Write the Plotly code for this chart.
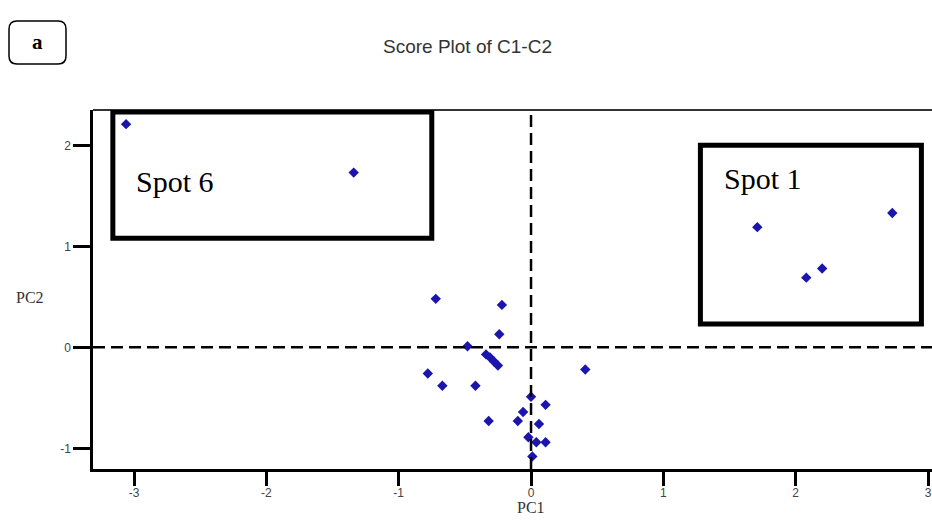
import plotly.graph_objects as go

# ---- data ----
pc1 = [-3.06, -1.34, 1.71, 2.73, 2.20, 2.08,
       -0.72, -0.22, -0.24, -0.48,
       -0.34, -0.31, -0.28, -0.25,
       -0.78, -0.67, -0.42, 0.41,
       0.00, 0.11, -0.06, -0.32, -0.10, 0.06,
       -0.02, 0.04, 0.11, 0.01]
pc2 = [2.21, 1.73, 1.19, 1.33, 0.78, 0.69,
       0.48, 0.42, 0.13, 0.01,
       -0.07, -0.10, -0.14, -0.18,
       -0.26, -0.38, -0.38, -0.22,
       -0.49, -0.57, -0.64, -0.73, -0.73, -0.76,
       -0.89, -0.94, -0.94, -1.08]
x_ticks = [-3, -2, -1, 0, 1, 2, 3]
y_ticks = [-1, 0, 1, 2]
spot_labels = ["Spot 6", "Spot 1"]
spot6_box = [-3.16, -0.75, 1.08, 2.33]   # x0, x1, y0, y1
spot1_box = [1.28, 2.95, 0.23, 2.00]

W, H = 932, 522
L, R, T, B = 93, 0, 110, 53
PW, PH = W - L - R, H - T - B


def px(xp):
    return (xp - L) / PW


def py(yp):
    return (H - B - yp) / PH


fig = go.Figure()
fig.add_trace(go.Scatter(
    x=pc1, y=pc2, mode="markers",
    marker=dict(symbol="diamond", size=8, color="#1b15ad", line=dict(width=0)),
    showlegend=False, hoverinfo="x+y"))

shapes = []
# dashed reference lines
shapes.append(dict(type="line", xref="paper", yref="y", x0=0, x1=1, y0=0, y1=0,
                   line=dict(color="black", width=2.5, dash="12px,6px")))
shapes.append(dict(type="line", xref="x", yref="paper", x0=0, x1=0, y0=0, y1=1,
                   line=dict(color="black", width=2.5, dash="12px,6px")))
# top frame line
shapes.append(dict(type="line", xref="paper", yref="paper", x0=0, x1=1, y0=1, y1=1,
                   line=dict(color="#333333", width=2)))
# spot boxes
for b in (spot6_box, spot1_box):
    shapes.append(dict(type="rect", xref="x", yref="y", x0=b[0], x1=b[1], y0=b[2], y1=b[3],
                       line=dict(color="black", width=5), fillcolor="rgba(0,0,0,0)"))
# rounded "a" box
x0, x1, y0, y1 = px(9), px(66), py(21), py(64)
rx, ry = 8 / PW, 8 / PH
path = (f"M {x0+rx},{y0} L {x1-rx},{y0} Q {x1},{y0} {x1},{y0-ry} "
        f"L {x1},{y1+ry} Q {x1},{y1} {x1-rx},{y1} L {x0+rx},{y1} "
        f"Q {x0},{y1} {x0},{y1+ry} L {x0},{y0-ry} Q {x0},{y0} {x0+rx},{y0} Z")
shapes.append(dict(type="path", xref="paper", yref="paper", path=path,
                   line=dict(color="black", width=1.5)))

annotations = [
    dict(text="Score Plot of C1-C2", xref="paper", yref="paper", x=px(467), y=py(46),
         showarrow=False, xanchor="center", yanchor="middle",
         font=dict(family="Liberation Sans, Arial", size=19, color="#333333")),
    dict(text="<b>a</b>", xref="paper", yref="paper", x=px(37), y=py(42),
         showarrow=False, xanchor="center", yanchor="middle",
         font=dict(family="Liberation Serif, Times New Roman", size=21, color="black")),
    dict(text="PC2", xref="paper", yref="paper", x=px(30), y=py(297),
         showarrow=False, xanchor="center", yanchor="middle",
         font=dict(family="Liberation Serif, Times New Roman", size=16, color="#333333")),
    dict(text="PC1", xref="paper", yref="paper", x=px(531), y=py(507),
         showarrow=False, xanchor="center", yanchor="middle",
         font=dict(family="Liberation Serif, Times New Roman", size=16, color="#333333")),
    dict(text=spot_labels[0], xref="x", yref="y", x=-3.0, y=1.64,
         showarrow=False, xanchor="left", yanchor="middle",
         font=dict(family="Liberation Serif, Times New Roman", size=30, color="black")),
    dict(text=spot_labels[1], xref="x", yref="y", x=1.44, y=1.67,
         showarrow=False, xanchor="left", yanchor="middle",
         font=dict(family="Liberation Serif, Times New Roman", size=30, color="black")),
]

fig.update_layout(
    width=W, height=H,
    margin=dict(l=L, r=R, t=T, b=B, pad=0),
    paper_bgcolor="white", plot_bgcolor="white",
    shapes=shapes, annotations=annotations,
    xaxis=dict(range=[-3.31, 3.03], tickvals=x_ticks, ticktext=[str(v) for v in x_ticks],
               showgrid=False, zeroline=False, showline=True, linecolor="black", linewidth=2.5,
               ticks="outside", ticklen=14, tickwidth=2.5, tickcolor="black",
               ticklabelstandoff=-3,
               tickfont=dict(family="Liberation Sans, Arial", size=12, color="#444444")),
    yaxis=dict(range=[-1.205, 2.35], tickvals=y_ticks, ticktext=[str(v) for v in y_ticks],
               showgrid=False, zeroline=False, showline=True, linecolor="black", linewidth=2.5,
               ticks="outside", ticklen=17, tickwidth=2.5, tickcolor="black",
               tickfont=dict(family="Liberation Sans, Arial", size=12, color="#444444")),
)

fig.write_html("out.html")
